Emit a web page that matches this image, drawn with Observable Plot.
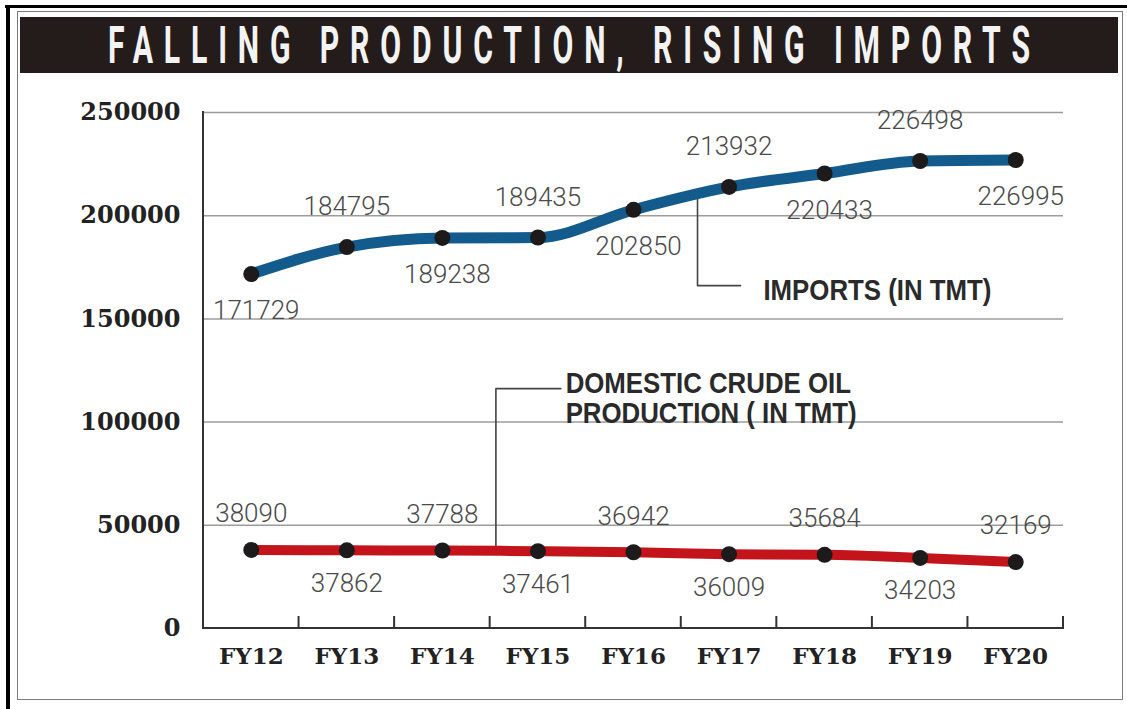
<!DOCTYPE html>
<html><head><meta charset="utf-8">
<script src="https://cdn.jsdelivr.net/npm/d3@7"></script>
<script src="https://cdn.jsdelivr.net/npm/@observablehq/plot@0.6"></script>
<style>
body{margin:0;background:#fff;width:1127px;height:709px;overflow:hidden;position:relative;font-family:Roboto,sans-serif}
#btop{position:absolute;left:5px;top:5px;width:1122px;height:3px;background:#000}
#bleft{position:absolute;left:6px;top:5px;width:4px;height:704px;background:#000}
#frame{position:absolute;left:17px;top:11px;width:1106px;height:689px;border:1.5px solid #7a7a7a;box-sizing:border-box}
#title{position:absolute;left:20px;top:10px;width:1098px;height:70px}
#title svg{display:block;overflow:visible}
#chart{position:absolute;left:0;top:80px}
#chart svg g[aria-label="y-axis tick label"] text,
#chart svg g[aria-label="x-axis tick label"] text{font-family:"DejaVu Serif",serif;font-weight:700;fill:#222}
#chart svg g[aria-label="y-axis tick label"] text{font-size:24px}
#chart svg g[aria-label="x-axis tick label"] text{font-size:23px}
</style></head><body>
<div id="btop"></div><div id="bleft"></div><div id="frame"></div>
<div id="title"></div>
<div id="chart"></div>
<script>
// ---- data ----
const years = ["FY12","FY13","FY14","FY15","FY16","FY17","FY18","FY19","FY20"];
const imports = [171729,184795,189238,189435,202850,213932,220433,226498,226995];
const domestic = [38090,37862,37788,37461,36942,36009,35684,34203,32169];
const yTicks = [0,50000,100000,150000,200000,250000];
const titleText = "FALLING PRODUCTION, RISING IMPORTS";
// annotation anchors in data units (x = category index, v = value)
const importsNote = ["IMPORTS (IN TMT)"];
const importsNoteAt = {i: 5.36, v: 163700};
const importsLeader = [{i: 4.67, v: 210275}, {i: 4.67, v: 166100}, {i: 5.12, v: 166100}];
const domesticNote = ["DOMESTIC CRUDE OIL", "PRODUCTION ( IN TMT)"];
const domesticNoteAt = [{i: 3.29, v: 118600}, {i: 3.29, v: 104100}];
const domesticLeader = [{i: 2.56, v: 37600}, {i: 2.56, v: 116200}, {i: 3.24, v: 116200}];

// ---- title ----
const tsvg = d3.select("#title").append("svg").attr("width", 1098).attr("height", 70);
tsvg.append("rect").attr("x", 0).attr("y", 7).attr("width", 1098).attr("height", 56).attr("fill", "#241b1b");
const sx = 0.58;
tsvg.append("text")
  .attr("transform", `scale(${sx},1)`)
  .attr("x", 88 / sx).attr("y", 53)
  .attr("textLength", 922 / sx).attr("lengthAdjust", "spacing")
  .attr("font-family", "Roboto, 'DejaVu Sans', sans-serif")
  .attr("font-weight", 700).attr("font-size", 52)
  .attr("fill", "#f3f3f3")
  .text(titleText);

// ---- chart ----
const idx = years.map((_, i) => i);
const impData = idx.map(i => ({i, v: imports[i]}));
const domData = idx.map(i => ({i, v: domestic[i]}));

const axisLines = (index, scales) => {
  const g = d3.create("svg:g").attr("stroke", "#333").attr("stroke-width", 2).attr("fill", "none");
  const x = scales.x, y = scales.y;
  const x0 = x(-0.5), x1 = x(years.length - 0.5);
  g.append("line").attr("x1", x0).attr("x2", x1 + 1).attr("y1", y(0)).attr("y2", y(0));
  g.append("line").attr("x1", x0).attr("x2", x0).attr("y1", y(0) + 1).attr("y2", y(yTicks[yTicks.length - 1]) - 1);
  idx.forEach(i => {
    g.append("line").attr("x1", x(i + 0.5)).attr("x2", x(i + 0.5)).attr("y1", y(0)).attr("y2", y(0) - 12);
  });
  return g.node();
};

const labelFont = {fontFamily: "Roboto, 'Open Sans', sans-serif", fontWeight: 300, fontSize: 26, fill: "#4a4a4a"};
const noteFont = {fontFamily: "'Liberation Sans', Arial, sans-serif", fontWeight: 700, fontSize: 30, fill: "#2a2a2a", textAnchor: "start", className: "note"};

const plot = Plot.plot({
  width: 1127, height: 615,
  marginLeft: 203, marginRight: 64, marginTop: 32, marginBottom: 67,
  x: {type: "linear", domain: [-0.5, years.length - 0.5]},
  y: {type: "linear", domain: [0, 250000]},
  style: {background: "transparent", overflow: "visible"},
  marks: [
    Plot.ruleY(yTicks.filter(d => d > 0), {stroke: "#9c9c9c", strokeWidth: 1.5}),
    Plot.line(importsLeader, {x: "i", y: "v", stroke: "#444", strokeWidth: 1.6}),
    Plot.line(domesticLeader, {x: "i", y: "v", stroke: "#444", strokeWidth: 1.6}),
    axisLines,
    Plot.line(impData, {x: "i", y: "v", stroke: "#135b8c", strokeWidth: 11, curve: "monotone-x", strokeLinejoin: "round"}),
    Plot.line(domData, {x: "i", y: "v", stroke: "#c3141c", strokeWidth: 10, curve: "monotone-x", strokeLinejoin: "round"}),
    Plot.dot(impData, {x: "i", y: "v", r: 8, fill: "#1c1a1a"}),
    Plot.dot(domData, {x: "i", y: "v", r: 8, fill: "#1c1a1a"}),
    Plot.text(impData.filter(d => d.i % 2 === 0), {x: "i", y: "v", text: d => String(d.v), dy: 37, dx: 5, ...labelFont}),
    Plot.text(impData.filter(d => d.i % 2 === 1), {x: "i", y: "v", text: d => String(d.v), dy: -40, ...labelFont}),
    Plot.text(domData.filter(d => d.i % 2 === 0), {x: "i", y: "v", text: d => String(d.v), dy: -36, ...labelFont}),
    Plot.text(domData.filter(d => d.i % 2 === 1), {x: "i", y: "v", text: d => String(d.v), dy: 33, ...labelFont}),
    Plot.text(importsNote, {x: () => importsNoteAt.i, y: () => importsNoteAt.v, text: d => d, ...noteFont}),
    Plot.text(domesticNote, {x: (d, k) => domesticNoteAt[k].i, y: (d, k) => domesticNoteAt[k].v, text: d => d, ...noteFont}),
    Plot.axisY({ticks: yTicks, tickSize: 0, tickPadding: 23, tickFormat: d => String(d), label: null, fontSize: 24}),
    Plot.axisX({ticks: idx, tickSize: 0, tickPadding: 19, tickFormat: i => years[i], label: null, fontSize: 23})
  ]
});
document.getElementById("chart").appendChild(plot);

// condense the annotation lettering like the reference's narrow bold type
d3.select(plot).selectAll("g.note text").each(function() {
  const w = this.getComputedTextLength();
  d3.select(this).attr("textLength", w * 0.86).attr("lengthAdjust", "spacingAndGlyphs");
});
</script>
</body></html>
